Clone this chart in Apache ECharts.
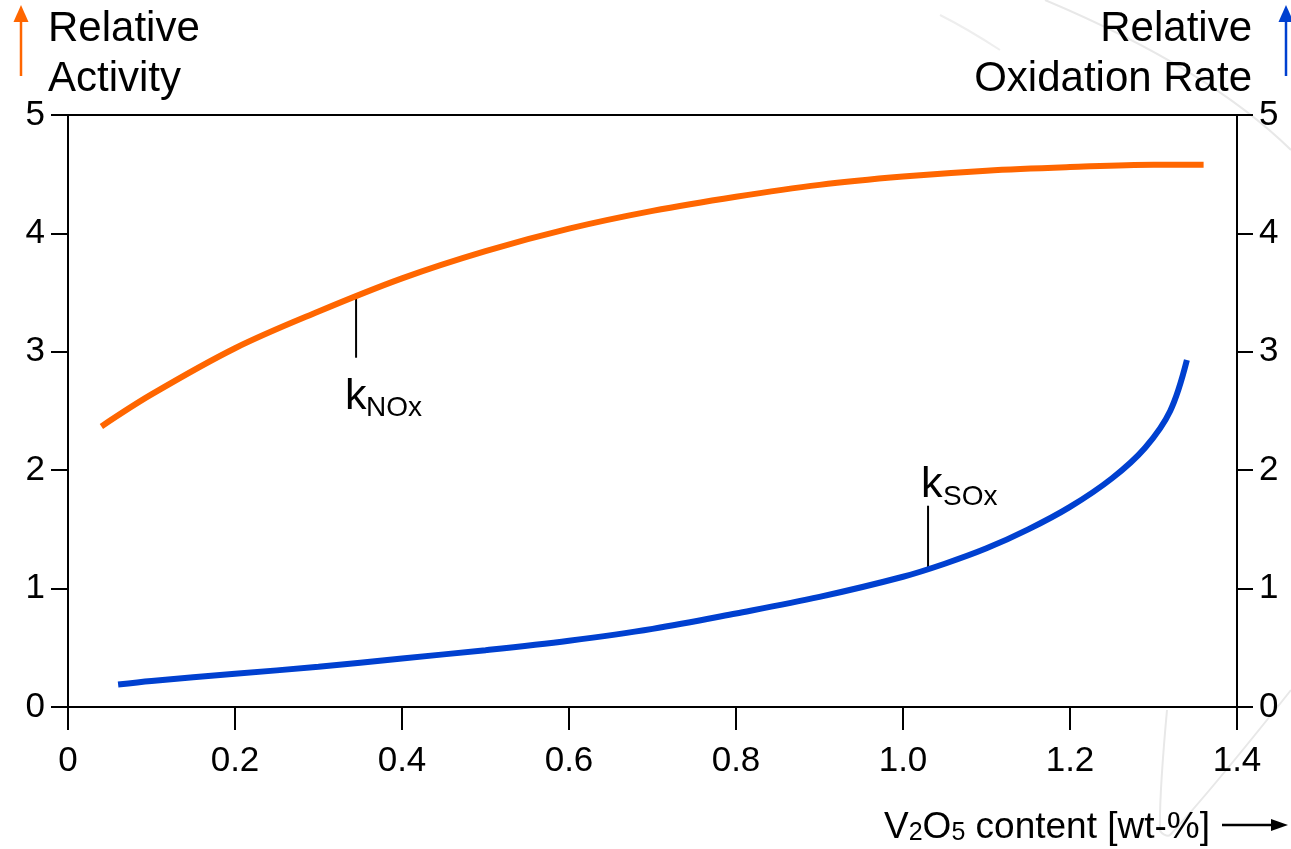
<!DOCTYPE html>
<html>
<head>
<meta charset="utf-8">
<script src="https://cdn.jsdelivr.net/npm/echarts@6/dist/echarts.min.js"></script>
<style>
html,body{margin:0;padding:0;background:#fff;}
#c{width:1291px;height:849px;}
</style>
</head>
<body>
<div id="c"></div>
<script>
// ---- data ----
var xTicks = [0, 0.2, 0.4, 0.6, 0.8, 1.0, 1.2, 1.4];
var yTicks = [0, 1, 2, 3, 4, 5];
var noxX = [0.04, 0.1, 0.2, 0.3, 0.4, 0.5, 0.6, 0.7, 0.8, 0.9, 1.0, 1.1, 1.2, 1.3, 1.36];
var noxY = [2.37, 2.64, 3.03, 3.34, 3.62, 3.85, 4.04, 4.19, 4.31, 4.41, 4.48, 4.53, 4.56, 4.58, 4.58];
var soxX = [0.06, 0.1, 0.2, 0.3, 0.4, 0.5, 0.6, 0.7, 0.8, 0.9, 1.0, 1.05, 1.1, 1.15, 1.2, 1.25, 1.29, 1.32, 1.34];
var soxY = [0.19, 0.22, 0.28, 0.34, 0.41, 0.48, 0.56, 0.66, 0.79, 0.93, 1.10, 1.21, 1.34, 1.50, 1.69, 1.93, 2.19, 2.50, 2.93];
// annotations: x position, y of leader end
var noxNote = {x: 0.345, y1: 2.95, main: 'k', sub: 'NOx'};
var soxNote = {x: 1.03, y1: 1.70, main: 'k', sub: 'SOx'};

var FONT = '"Liberation Sans", Arial, Helvetica, sans-serif';
var ORANGE = '#ff6600';
var BLUE = '#0040d0';

function zip(a, b) { return a.map(function (v, i) { return [v, b[i]]; }); }
function interp(xs, ys, x) {
  for (var i = 0; i < xs.length - 1; i++) {
    if (x >= xs[i] && x <= xs[i + 1]) {
      var t = (x - xs[i]) / (xs[i + 1] - xs[i]);
      return ys[i] + t * (ys[i + 1] - ys[i]);
    }
  }
  return ys[ys.length - 1];
}

var chart = echarts.init(document.getElementById('c'), null, {renderer: 'canvas'});

var axisLine = {show: true, lineStyle: {color: '#000', width: 2}};
var option = {
  backgroundColor: '#fff',
  animation: false,
  grid: {left: 68, right: 54, top: 115, bottom: 142, show: true, borderColor: '#000', borderWidth: 2, backgroundColor: 'transparent'},
  xAxis: {
    type: 'value', min: 0, max: 1.4, interval: 0.2,
    axisLine: axisLine,
    axisTick: {show: true, length: 23, lineStyle: {color: '#000', width: 2}},
    splitLine: {show: false},
    axisLabel: {
      margin: 37, color: '#000', fontSize: 35, fontFamily: FONT,
      formatter: function (v) { return v === 0 ? '0' : v.toFixed(1); }
    }
  },
  yAxis: [{
    type: 'value', min: 0, max: 5, interval: 1, position: 'left',
    axisLine: axisLine,
    axisTick: {show: true, length: 17, lineStyle: {color: '#000', width: 2}},
    splitLine: {show: false},
    axisLabel: {margin: 23, color: '#000', fontSize: 35, fontFamily: FONT}
  }, {
    type: 'value', min: 0, max: 5, interval: 1, position: 'right',
    axisLine: axisLine,
    axisTick: {show: true, length: 16, lineStyle: {color: '#000', width: 2}},
    splitLine: {show: false},
    axisLabel: {margin: 22, color: '#000', fontSize: 35, fontFamily: FONT}
  }],
  series: [{
    name: 'kNOx', type: 'line', data: zip(noxX, noxY), yAxisIndex: 0,
    smooth: 0.35, symbol: 'none', lineStyle: {color: ORANGE, width: 6}, z: 5
  }, {
    name: 'kSOx', type: 'line', data: zip(soxX, soxY), yAxisIndex: 1,
    smooth: 0.35, symbol: 'none', lineStyle: {color: BLUE, width: 6}, z: 5
  }]
};
chart.setOption(option);

function px(x, y) { return chart.convertToPixel({xAxisIndex: 0, yAxisIndex: 0}, [x, y]); }

function arrowUp(x, yBottom, yTop, color) {
  return [
    {type: 'line', shape: {x1: x, y1: yBottom, x2: x, y2: yTop + 12}, style: {stroke: color, lineWidth: 2.5}},
    {type: 'polygon', shape: {points: [[x, yTop], [x - 7.5, yTop + 17], [x + 7.5, yTop + 17]]}, style: {fill: color}}
  ];
}

// k with subscript: baseline positions given relative to the leader end
function subLabel(anchor, dxMain, dyMain, dxSub, dySub, main, sub) {
  var mainSize = 43, subSize = 28;
  return [
    {type: 'text', x: anchor[0] + dxMain, y: anchor[1] + dyMain + 0.21 * mainSize,
      style: {text: main, fontSize: mainSize, fontFamily: FONT, fill: '#000', align: 'left', verticalAlign: 'bottom'}},
    {type: 'text', x: anchor[0] + dxSub, y: anchor[1] + dySub + 0.21 * subSize,
      style: {text: sub, fontSize: subSize, fontFamily: FONT, fill: '#000', align: 'left', verticalAlign: 'bottom'}}
  ];
}

var g = [];
// faint decorative background arcs
g.push({type: 'bezierCurve', shape: {x1: 1045, y1: 0, x2: 1291, y2: 150, cpx1: 1140, cpy1: 40, cpx2: 1230, cpy2: 90}, style: {stroke: '#e8e8e8', lineWidth: 2, fill: null}, z: -10});
g.push({type: 'bezierCurve', shape: {x1: 940, y1: 15, x2: 1000, y2: 50, cpx1: 960, cpy1: 25, cpx2: 980, cpy2: 37}, style: {stroke: '#eeeeee', lineWidth: 2, fill: null}, z: -10});
g.push({type: 'polyline', shape: {points: [[1167, 710], [1160, 830], [1170, 835], [1291, 690]], smooth: 0.3}, style: {stroke: '#e8e8e8', lineWidth: 2, fill: null}, z: -10});

// axis titles
g.push({type: 'text', x: 48, y: 29, style: {text: 'Relative', fontSize: 42, fontFamily: FONT, fill: '#000', align: 'left', verticalAlign: 'middle'}});
g.push({type: 'text', x: 48, y: 79, style: {text: 'Activity', fontSize: 42, fontFamily: FONT, fill: '#000', align: 'left', verticalAlign: 'middle'}});
g.push({type: 'text', x: 1252, y: 29, style: {text: 'Relative', fontSize: 42, fontFamily: FONT, fill: '#000', align: 'right', verticalAlign: 'middle'}});
g.push({type: 'text', x: 1252, y: 79, style: {text: 'Oxidation Rate', fontSize: 42, fontFamily: FONT, fill: '#000', align: 'right', verticalAlign: 'middle'}});
g = g.concat(arrowUp(21, 76, 5, ORANGE));
g = g.concat(arrowUp(1286, 76, 5, BLUE));

// x axis name
g.push({
  type: 'text', x: 1210, y: 826,
  style: {
    text: '{m|V}{s|2}{m|O}{s|5}{m| content [wt-%]}',
    fontFamily: FONT, align: 'right', verticalAlign: 'middle',
    rich: {
      m: {fontSize: 37, fontFamily: FONT, fill: '#000', lineHeight: 40, verticalAlign: 'bottom'},
      s: {fontSize: 25, fontFamily: FONT, fill: '#000', lineHeight: 16, verticalAlign: 'bottom'}
    }
  }
});
g.push({type: 'line', shape: {x1: 1222, y1: 825, x2: 1275, y2: 825}, style: {stroke: '#000', lineWidth: 2.5}});
g.push({type: 'polygon', shape: {points: [[1288, 825], [1271, 819], [1271, 831]]}, style: {fill: '#000'}});

// annotations (leader lines start on the curves)
var a0 = px(noxNote.x, interp(noxX, noxY, noxNote.x)), a1 = px(noxNote.x, noxNote.y1);
g.push({type: 'line', shape: {x1: a0[0], y1: a0[1], x2: a1[0], y2: a1[1]}, style: {stroke: '#000', lineWidth: 2}, z: 4});
g = g.concat(subLabel(a1, -11, 52, 10, 59, noxNote.main, noxNote.sub));
var b0 = px(soxNote.x, interp(soxX, soxY, soxNote.x)), b1 = px(soxNote.x, soxNote.y1);
g.push({type: 'line', shape: {x1: b0[0], y1: b0[1], x2: b1[0], y2: b1[1]}, style: {stroke: '#000', lineWidth: 2}, z: 4});
g = g.concat(subLabel(b1, -7, -8, 15, 0, soxNote.main, soxNote.sub));

chart.setOption({graphic: {elements: g}});
</script>
</body>
</html>
